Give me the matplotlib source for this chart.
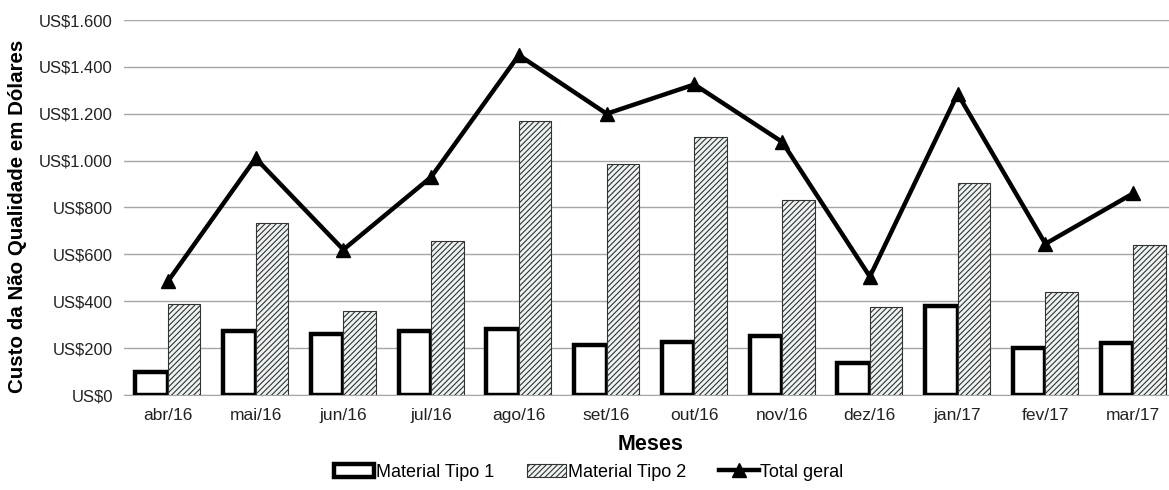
import numpy as np
import matplotlib.pyplot as plt
from matplotlib.ticker import FuncFormatter

plt.rcParams['font.family'] = ['Liberation Sans', 'DejaVu Sans']
plt.rcParams['hatch.color'] = '#4f5a5a'
plt.rcParams['hatch.linewidth'] = 0.8

meses = ['abr/16', 'mai/16', 'jun/16', 'jul/16', 'ago/16', 'set/16',
         'out/16', 'nov/16', 'dez/16', 'jan/17', 'fev/17', 'mar/17']
tipo1 = [100, 275, 260, 275, 280, 215, 225, 250, 135, 380, 200, 220]
tipo2 = [390, 735, 360, 655, 1170, 985, 1100, 830, 375, 905, 440, 640]
total = [485, 1010, 620, 930, 1450, 1200, 1325, 1080, 505, 1285, 645, 860]

fig = plt.figure(figsize=(11.69, 4.9), dpi=100)
ax = fig.add_axes([124 / 1169, 1 - 395 / 490, 1053 / 1169, 375 / 490])

x = np.arange(len(meses))
w = 0.37

b1 = ax.bar(x - w / 2, tipo1, w, facecolor='white', edgecolor='black',
            linewidth=3.2, label='Material Tipo 1', zorder=3)
b2 = ax.bar(x + w / 2, tipo2, w, facecolor='#eef3f3', edgecolor='#333333',
            linewidth=0.8, hatch='//////', label='Material Tipo 2', zorder=3)
ln, = ax.plot(x, total, color='black', linewidth=3.2, marker='^', markersize=10,
              label='Total geral', zorder=4)

ax.set_xlim(-0.5, len(meses) - 0.5)
ax.set_ylim(0, 1600)
ax.set_yticks(np.arange(0, 1601, 200))


def fmt_usd(v, pos):
    return 'US$' + f'{int(v):,}'.replace(',', '.')


ax.yaxis.set_major_formatter(FuncFormatter(fmt_usd))
ax.set_xticks(x)
ax.set_xticklabels(meses)
ax.tick_params(axis='both', length=0, colors='#222222')
ax.tick_params(axis='x', pad=9, labelsize=12.5)
ax.tick_params(axis='y', pad=8, labelsize=12)
ax.grid(axis='y', color='#a6a6a6', linewidth=1.0, zorder=0)
for s in ['top', 'right', 'left']:
    ax.spines[s].set_visible(False)
ax.spines['bottom'].set_color('#a6a6a6')

ax.set_xlabel('Meses', fontsize=15.5, fontweight='bold', labelpad=8)
fig.text(18 / 1169, 1 - 216 / 490, 'Custo da Não Qualidade em Dólares',
         rotation=90, fontsize=14.8, fontweight='bold', ha='center', va='center')

fig.legend([b1, b2, ln], ['Material Tipo 1', 'Material Tipo 2', 'Total geral'],
           loc='center', bbox_to_anchor=(589 / 1169, 1 - 472 / 490), ncol=3,
           frameon=False, fontsize=13, handlelength=2.2, handletextpad=0.1,
           columnspacing=1.8)

fig.savefig('out.png', dpi=100)
